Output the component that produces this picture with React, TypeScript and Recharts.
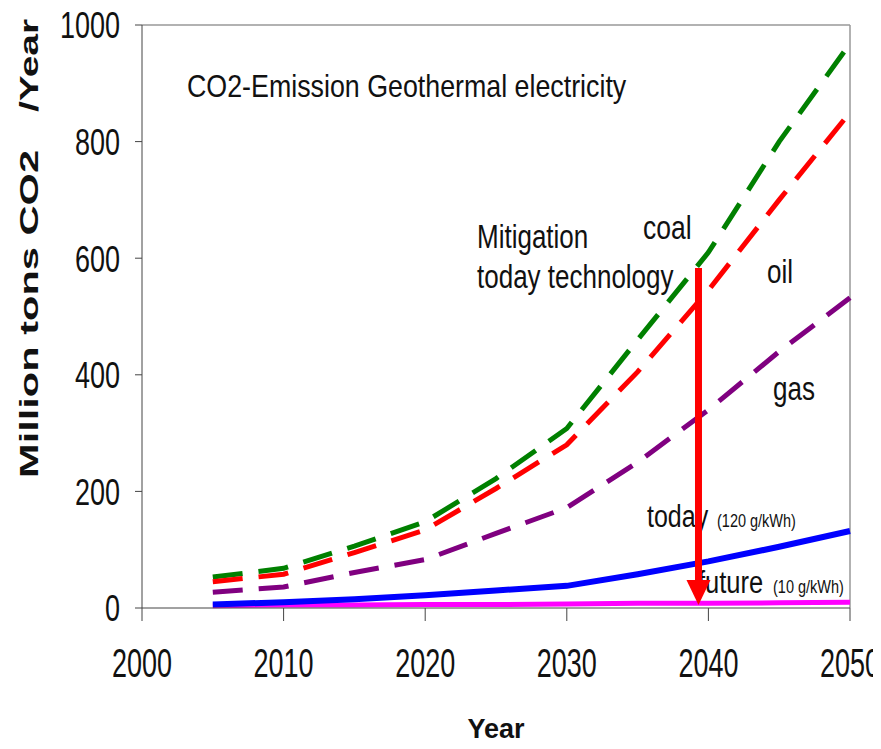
import { LineChart, Line, XAxis, YAxis, ReferenceLine, Customized } from 'recharts'

const years = [2005, 2010, 2015, 2020, 2025, 2030, 2035, 2040, 2045, 2050]
const coal = [53, 68, 106, 148, 222, 308, 460, 610, 800, 968]
const oil = [45, 58, 95, 134, 205, 280, 405, 545, 700, 850]
const gas = [27, 36, 61, 83, 128, 172, 250, 340, 440, 532]
const today = [6, 10, 15, 22, 30, 38, 58, 80, 105, 132]
const future = [4, 5, 5, 6, 6, 7, 8, 8, 9, 10]

const xTicks = [2000, 2010, 2020, 2030, 2040, 2050]
const yTicks = [0, 200, 400, 600, 800, 1000]

// mitigation arrow: from coal level down to near zero, just before 2040
const arrowYear = 2039.3
const arrowFrom = 583
const arrowTo = 5

const data = years.map((year, i) => ({
  year,
  coal: coal[i],
  oil: oil[i],
  gas: gas[i],
  today: today[i],
  future: future[i],
}))

const FONT = '"Liberation Sans", Arial, sans-serif'

// the source picture is stretched vertically, so text gets a y-scale
function T({ x, y, size, sy = 1.25, anchor = 'start', weight = 'normal', children }: any) {
  return (
    <text
      transform={`translate(${x},${y}) scale(1,${sy})`}
      fontSize={size}
      fontFamily={FONT}
      fontWeight={weight}
      textAnchor={anchor}
      fill="#111"
    >
      {children}
    </text>
  )
}

function YTick({ x, y, payload }: any) {
  const fs = 27
  return (
    <T x={x} y={y + 0.358 * fs * 1.38} size={fs} sy={1.38} anchor="end">
      {payload.value}
    </T>
  )
}

function XTick({ x, y, payload }: any) {
  const fs = 27
  return (
    <T x={x} y={y + 0.716 * fs * 1.5} size={fs} sy={1.5} anchor="middle">
      {payload.value}
    </T>
  )
}

function Arrow({ x1, y1, y2 }: any) {
  const head = 25
  return (
    <g>
      <line x1={x1} y1={y1} x2={x1} y2={y2 - head + 2} stroke="#FF0000" strokeWidth={7} />
      <polygon
        points={`${x1 - 12},${y2 - head} ${x1 + 12},${y2 - head} ${x1},${y2}`}
        fill="#FF0000"
      />
    </g>
  )
}

function Annotations() {
  return (
    <g>
      <T x={187} y={97} size={26.8} sy={1.2}>CO2-Emission Geothermal electricity</T>
      <T x={477} y={248} size={26}>Mitigation</T>
      <T x={477} y={288} size={26}>today technology</T>
      <T x={643} y={239} size={26.5}>coal</T>
      <T x={767} y={283} size={26}>oil</T>
      <T x={773} y={400} size={26}>gas</T>
      <T x={647} y={527} size={25}>today</T>
      <T x={717} y={527} size={14.5}>(120 g/kWh)</T>
      <T x={698} y={593} size={25.5}>future</T>
      <T x={773} y={593} size={14.5}>(10 g/kWh)</T>
      <text
        transform="translate(38,478) rotate(-90) scale(1.6,1)"
        fontSize={26}
        fontWeight="bold"
        fontFamily={FONT}
        fill="#111"
      >
        Million tons CO2
      </text>
      <text
        transform="translate(38,112) rotate(-90) scale(1.5,1)"
        fontSize={26}
        fontWeight="bold"
        fontFamily={FONT}
        fill="#111"
      >
        /Year
      </text>
    </g>
  )
}

export default function App() {
  return (
    <div style={{ margin: -8 }}>
      <LineChart
        width={881}
        height={749}
        data={data}
        margin={{ top: 25, right: 31, bottom: 0, left: 0 }}
        style={{ fontFamily: FONT }}
      >
        <XAxis
          dataKey="year"
          type="number"
          domain={[2000, 2050]}
          ticks={xTicks}
          tickSize={13}
          tickMargin={27}
          stroke="#444"
          height={141}
          tick={<XTick />}
          label={{
            value: 'Year',
            position: 'insideBottom',
            offset: 11,
            fontSize: 27,
            fontWeight: 'bold',
            fill: '#111',
          }}
        />
        <YAxis
          type="number"
          domain={[0, 1000]}
          ticks={yTicks}
          tickSize={7}
          tickMargin={15}
          stroke="#444"
          width={142}
          tick={<YTick />}
        />
        <ReferenceLine y={1000} stroke="#999" strokeWidth={1.5} />
        <ReferenceLine x={2050} stroke="#999" strokeWidth={1.5} />
        <Customized component={Annotations} />
        <Line type="linear" dataKey="coal" stroke="#008000" strokeWidth={5} strokeDasharray="30 16" dot={false} isAnimationActive={false} />
        <Line type="linear" dataKey="oil" stroke="#FF0000" strokeWidth={5} strokeDasharray="30 16" dot={false} isAnimationActive={false} />
        <Line type="linear" dataKey="gas" stroke="#800080" strokeWidth={5} strokeDasharray="30 16" dot={false} isAnimationActive={false} />
        <Line type="linear" dataKey="future" stroke="#FF00FF" strokeWidth={5} dot={false} isAnimationActive={false} />
        <Line type="linear" dataKey="today" stroke="#0000FF" strokeWidth={6} dot={false} isAnimationActive={false} />
        <ReferenceLine
          segment={[
            { x: arrowYear, y: arrowFrom },
            { x: arrowYear, y: arrowTo },
          ]}
          shape={<Arrow />}
        />
      </LineChart>
    </div>
  )
}
